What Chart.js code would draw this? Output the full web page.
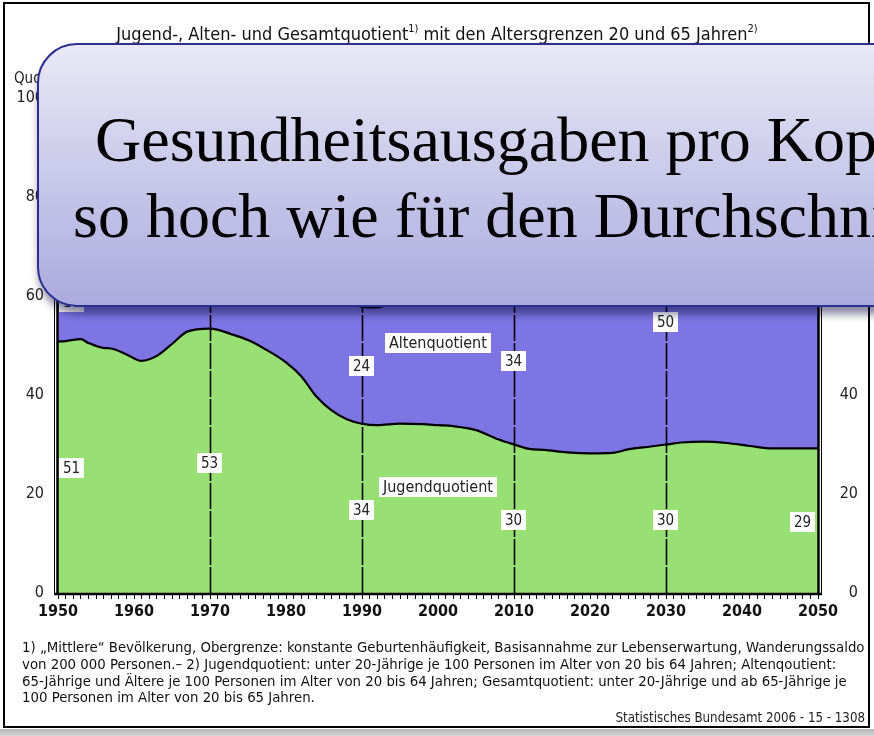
<!DOCTYPE html>
<html><head><meta charset="utf-8">
<script src="https://cdn.jsdelivr.net/npm/chart.js@4/dist/chart.umd.min.js"></script>
<style>
html,body{margin:0;padding:0;background:#fff;overflow:hidden;width:874px;height:736px}
#wrap{position:relative;width:874px;height:736px;overflow:hidden;background:#fff}
canvas{position:absolute;left:0;top:0}
#overlay{position:absolute;left:37px;top:43px;width:1000px;height:260px;border:2px solid #2b2f8f;border-radius:40px;
  background:linear-gradient(#e8e8f6,#aaaade);box-shadow:2px 7px 9px rgba(10,10,60,0.5);overflow:hidden}
.ol{position:absolute;font-family:"Liberation Serif","Times New Roman",serif;font-size:64px;color:#000;white-space:nowrap;line-height:64px}
#shadowbar{position:absolute;left:0;top:729px;width:874px;height:7px;background:linear-gradient(#b5b5b5,#d5d5d5)}
</style></head>
<body>
<div id="wrap">
<canvas id="c" width="874" height="736"></canvas>
<div id="shadowbar"></div>
<div id="overlay">
  <div class="ol" style="left:56px;top:63px">Gesundheitsausgaben pro Kopf</div>
  <div class="ol" style="left:34px;top:139px">so hoch wie für den Durchschnitt</div>
</div>
</div>
<script>
// ---- data ----
const years = [1950,1951,1953,1954,1956,1957,1959,1961,1963,1965,1967,1970,1973,1975,1977,1980,1982,1984,1986,1988,1990,1992,1995,1998,2000,2002,2005,2008,2010,2012,2014,2017,2020,2023,2025,2028,2030,2032,2035,2038,2041,2044,2050];
const jugendquotient = [50.8,50.9,51.3,50.5,49.5,49.4,48.2,46.9,47.9,50.3,52.8,53.4,52.2,51.1,49.5,46.6,43.8,39.7,36.9,35.1,34.2,33.9,34.2,34.1,33.9,33.7,32.9,31.0,30.0,29.1,28.9,28.4,28.2,28.3,29.0,29.6,30.0,30.4,30.6,30.3,29.7,29.2,29.2];
const altenquotient = [16,16.2,16.6,16.8,17.2,17.5,18.2,19,20,21.5,23,25,26.5,27.5,27.8,27,25.5,23.8,23.6,24.2,23.6,23.8,25.2,25.8,26.5,27.5,31.5,33.5,34,34.3,35,36.5,38.5,41.5,43.5,47,50,52.5,55.5,58.5,61,62.5,64];
const labelYears = [1950,1970,1990,2010,2030,2050];
const jugendLabels = [51,53,34,30,30,29];
const altenLabels = [16,25,24,34,50,64];
const markerYears = [1970,1990,2010,2030];
const yTickValues = [0,20,40,60,80,100];
const xTickValues = []; for (let v=1950; v<=2050; v++) xTickValues.push(v);

const FONT = '"DejaVu Sans Condensed","Liberation Sans Narrow",sans-serif';
const GREEN = '#99e074', PURPLE = '#7d75e3';

const footnotes = [
 '1) „Mittlere“ Bevölkerung, Obergrenze: konstante Geburtenhäufigkeit, Basisannahme zur Lebenserwartung, Wanderungssaldo',
 'von 200 000 Personen.– 2) Jugendquotient: unter 20-Jährige je 100 Personen im Alter von 20 bis 64 Jahren; Altenqoutient:',
 '65-Jährige und Ältere je 100 Personen im Alter von 20 bis 64 Jahren; Gesamtquotient: unter 20-Jährige und ab 65-Jährige je',
 '100 Personen im Alter von 20 bis 65 Jahren.'
];

function labelBox(ctx, text, px, py, align, size){
  ctx.font = size + 'px ' + FONT;
  const w = ctx.measureText(text).width + 8, h = 20;
  let left = px - w/2;
  if (align === 'left') left = px + 1;
  if (align === 'right') left = px - w - 3;
  ctx.fillStyle = '#fff';
  ctx.fillRect(Math.round(left), Math.round(py - h/2), Math.round(w), h);
  ctx.fillStyle = '#222';
  ctx.textAlign = 'center'; ctx.textBaseline = 'middle';
  ctx.fillText(text, Math.round(left) + w/2, py + 1);
}

const extras = {
  id:'extras',
  afterDatasetsDraw(chart){
    const {ctx, chartArea:a, scales:{x, y}} = chart;
    ctx.save();
    // marker lines
    ctx.strokeStyle = '#000'; ctx.lineWidth = 1.6; ctx.setLineDash([26,2]);
    markerYears.forEach(yr => {
      const px = Math.round(x.getPixelForValue(yr)) + 0.5;
      ctx.beginPath(); ctx.moveTo(px, a.bottom); ctx.lineTo(px, a.top); ctx.stroke();
    });
    ctx.setLineDash([]);
    // axis frame
    ctx.lineWidth = 2.5;
    ctx.beginPath();
    ctx.moveTo(a.left - 0.5, a.top); ctx.lineTo(a.left - 0.5, a.bottom + 1);
    ctx.moveTo(a.right + 0.5, a.top); ctx.lineTo(a.right + 0.5, a.bottom + 1);
    ctx.moveTo(a.left - 4, a.bottom + 1); ctx.lineTo(a.right + 4, a.bottom + 1);
    ctx.stroke();
    ctx.lineWidth = 1;
    ctx.beginPath();
    ctx.moveTo(a.left - 3.5, a.top); ctx.lineTo(a.left - 3.5, a.bottom + 2);
    ctx.moveTo(a.right + 3.5, a.top); ctx.lineTo(a.right + 3.5, a.bottom + 2);
    ctx.stroke();
    // value labels
    labelYears.forEach((yr, i) => {
      const align = i === 0 ? 'left' : (i === labelYears.length - 1 ? 'right' : 'center');
      const px = x.getPixelForValue(yr);
      labelBox(ctx, String(jugendLabels[i]), px, y.getPixelForValue(jugendLabels[i]/2) + 1, align, 15);
      labelBox(ctx, String(altenLabels[i]), px, y.getPixelForValue(jugendLabels[i] + altenLabels[i]/2) + 1, align, 15);
    });
    labelBox(ctx, 'Altenquotient', x.getPixelForValue(2000), y.getPixelForValue(50.5), 'center', 16);
    labelBox(ctx, 'Jugendquotient', x.getPixelForValue(2000), y.getPixelForValue(21.4), 'center', 16);
    ctx.restore();
  },
  afterDraw(chart){
    const ctx = chart.ctx;
    ctx.save();
    // outer frame
    ctx.strokeStyle = '#000'; ctx.lineWidth = 2;
    ctx.strokeRect(4, 3, 865, 724);
    // title
    const parts = [
      ['Jugend-, Alten- und Gesamtquotient', 18, 0],
      ['1)', 11, -8],
      [' mit den Altersgrenzen 20 und 65 Jahren', 18, 0],
      ['2)', 11, -8]
    ];
    let total = 0;
    parts.forEach(p => { ctx.font = p[1] + 'px ' + FONT; p.push(ctx.measureText(p[0]).width); total += p[3]; });
    let tx = 437 - total/2;
    ctx.fillStyle = '#111'; ctx.textAlign = 'left'; ctx.textBaseline = 'alphabetic';
    parts.forEach(p => { ctx.font = p[1] + 'px ' + FONT; ctx.fillText(p[0], tx, 40 + p[2]); tx += p[3]; });
    // y axis caption
    ctx.font = '15px ' + FONT; ctx.fillStyle = '#222';
    ctx.fillText('Quotient', 14, 83);
    // footnotes
    ctx.font = '14.8px ' + FONT; ctx.fillStyle = '#111';
    footnotes.forEach((t, i) => ctx.fillText(t, 22, 652 + i*16.8));
    ctx.font = '13.2px ' + FONT; ctx.textAlign = 'right'; ctx.fillStyle = '#222';
    ctx.fillText('Statistisches Bundesamt 2006 - 15 - 1308', 865, 722);
    ctx.restore();
  }
};

new Chart(document.getElementById('c'), {
  type:'line',
  data:{datasets:[
    {label:'Jugendquotient', data: years.map((yr,i)=>({x:yr, y:jugendquotient[i]})),
     fill:'origin', backgroundColor:GREEN, borderColor:'#000', borderWidth:2.2, pointRadius:0, cubicInterpolationMode:'monotone'},
    {label:'Altenquotient', data: years.map((yr,i)=>({x:yr, y:altenquotient[i]})),
     fill:'-1', backgroundColor:PURPLE, borderColor:'#000', borderWidth:2.2, pointRadius:0, cubicInterpolationMode:'monotone'}
  ]},
  options:{
    responsive:false, animation:false, events:[],
    layout:{padding:{left:0, right:16, top:98, bottom:0}},
    plugins:{legend:{display:false}, tooltip:{enabled:false}},
    scales:{
      x:{type:'linear', min:1950, max:2050,
         afterBuildTicks(s){ s.ticks = xTickValues.map(v=>({value:v})); },
         ticks:{autoSkip:false, maxRotation:0, minRotation:0, padding:3, color:'#111',
                font:{family:FONT, size:16, weight:'bold'}, callback:v => v % 10 === 0 ? String(v) : ''},
         grid:{display:true, drawOnChartArea:false, drawTicks:true, tickLength:6, color:'#000', lineWidth:1},
         border:{display:false},
         afterFit(s){ s.height = 143; }},
      y:{stacked:true, min:0, max:100, position:'left',
         afterBuildTicks(s){ s.ticks = yTickValues.map(v=>({value:v})); },
         ticks:{padding:14, color:'#222', font:{family:FONT, size:16}},
         grid:{display:false, drawTicks:false}, border:{display:false},
         afterFit(s){ s.width = 58; }},
      y2:{min:0, max:100, position:'right',
         afterBuildTicks(s){ s.ticks = yTickValues.map(v=>({value:v})); },
         ticks:{crossAlign:'far', padding:10, color:'#222', font:{family:FONT, size:16}},
         grid:{display:false, drawTicks:false}, border:{display:false},
         afterFit(s){ s.width = 40; }}
    }
  },
  plugins:[extras]
});
</script>
</body></html>
